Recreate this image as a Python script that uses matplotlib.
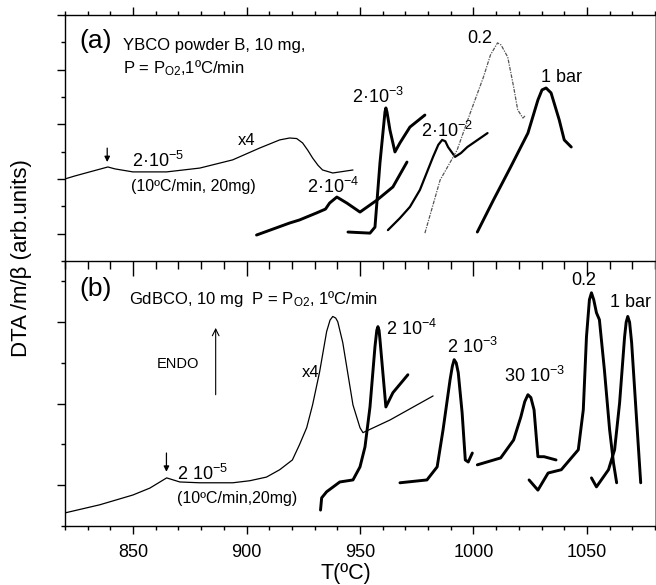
import matplotlib
matplotlib.use("Agg")
import matplotlib.pyplot as plt
from matplotlib.ticker import MultipleLocator

plt.rcParams['font.family'] = ['Liberation Sans', 'DejaVu Sans']
plt.rcParams['mathtext.default'] = 'regular'

# ---------------- (a) YBCO powder B ----------------
a_x4_T = [819.9, 824.3, 830.9, 838.9, 842.0, 849.9, 864.8, 879.4, 893.9, 905.7,
          914.6, 919.0, 922.1, 924.7, 927.0, 929.1, 931.5, 933.5, 938.0, 946.9]
a_x4_y = [3.00, 3.11, 3.26, 3.44, 3.37, 3.26, 3.26, 3.40, 3.70, 4.13,
          4.43, 4.50, 4.48, 4.32, 4.05, 3.77, 3.50, 3.33, 3.22, 3.33]

a_2e4_T = [904.4, 919.0, 923.3, 930.9, 934.8, 936.6, 939.8, 944.2, 950.0, 957.5, 964.5, 970.7]
a_2e4_y = [0.95, 1.39, 1.50, 1.76, 1.90, 2.12, 2.34, 2.12, 1.79, 2.23, 2.71, 3.62]

a_2e3_T = [944.7, 954.4, 956.6, 958.8, 961.0, 961.4, 961.9, 963.2, 965.4, 967.6, 972.0, 978.6]
a_2e3_y = [1.06, 1.02, 1.24, 3.59, 5.45, 5.60, 5.45, 4.79, 3.99, 4.32, 4.90, 5.34]

a_2e2_T = [962.3, 967.6, 972.0, 976.4, 982.2, 984.5, 986.2, 987.6, 988.8, 991.9, 994.5, 997.3, 1006.2]
a_2e2_y = [1.13, 1.57, 1.98, 2.60, 3.81, 4.25, 4.43, 4.38, 4.17, 3.81, 3.95, 4.17, 4.68]

a_02_T = [978.6, 985.3, 992.8, 998.6, 1004.4, 1007.5, 1010.6, 1012.2, 1015.1,
          1017.7, 1019.5, 1021.8, 1023.1]
a_02_y = [1.02, 2.96, 4.06, 5.42, 6.73, 7.54, 7.98, 7.90, 7.46,
          6.37, 5.53, 5.23, 5.34]

a_1bar_T = [1001.7, 1008.8, 1016.4, 1024.0, 1028.4, 1030.2, 1032.0, 1034.2, 1037.8, 1040.0, 1043.1]
a_1bar_y = [1.06, 2.23, 3.44, 4.68, 5.89, 6.26, 6.33, 6.15, 5.16, 4.43, 4.17]

# ---------------- (b) GdBCO ----------------
b_x4_T = [819.9, 835.3, 849.9, 857.4, 864.8, 870.6, 879.4, 893.9, 901.4, 908.8,
          914.6, 920.2, 923.3, 926.5, 929.1, 932.2, 935.3, 936.8, 938.0, 939.3, 940.2, 942.4,
          946.9, 950.0, 951.3, 963.2, 982.2]
b_x4_y = [0.32, 0.52, 0.76, 0.93, 1.18, 1.08, 1.06, 1.06, 1.11, 1.20,
          1.38, 1.62, 1.99, 2.41, 2.97, 3.78, 4.77, 5.05, 5.14, 5.10, 5.01, 4.50,
          2.97, 2.41, 2.29, 2.60, 3.19]

b_2e4_T = [932.6, 933.1, 935.3, 941.1, 946.9, 950.0, 952.2, 954.4, 956.6, 957.4, 957.9,
           958.4, 958.8, 959.7, 961.4, 964.5, 971.1]
b_2e4_y = [0.39, 0.69, 0.84, 1.08, 1.13, 1.45, 1.94, 2.92, 4.40, 4.80, 4.89,
           4.80, 4.57, 4.00, 2.92, 3.27, 3.71]

b_2e3_T = [967.6, 979.5, 984.0, 986.6, 989.7, 990.7, 991.5, 992.4, 993.3, 995.0, 996.4, 997.7, 999.5]
b_2e3_y = [1.06, 1.13, 1.45, 2.36, 3.59, 3.92, 4.08, 4.00, 3.76, 2.78, 1.62, 1.57, 1.79]

b_30e3_T = [1001.7, 1012.0, 1017.7, 1020.9, 1022.6, 1024.0, 1025.3, 1026.7, 1028.4, 1031.1, 1036.4]
b_30e3_y = [1.50, 1.67, 2.11, 2.68, 3.05, 3.22, 3.15, 2.85, 1.70, 1.70, 1.62]

b_02_T = [1024.5, 1028.4, 1032.9, 1038.7, 1046.2, 1048.4, 1049.8, 1051.1, 1052.0, 1053.0,
          1054.2, 1055.5, 1057.7, 1060.0, 1061.7, 1063.1]
b_02_y = [1.13, 0.88, 1.30, 1.38, 1.87, 2.85, 4.64, 5.55, 5.72, 5.55,
          5.23, 5.06, 3.83, 2.36, 1.55, 1.06]

b_1bar_T = [1052.0, 1054.2, 1059.5, 1062.2, 1064.4, 1066.6, 1067.3, 1068.0, 1068.8,
            1069.7, 1071.9, 1073.7]
b_1bar_y = [1.18, 0.96, 1.38, 1.87, 3.02, 4.64, 5.00, 5.14, 5.00,
            4.50, 2.60, 1.06]

x_ticks = [850, 900, 950, 1000, 1050]

THICK = 2.1
THIN = 0.9

fig = plt.figure(figsize=(6.56, 5.85), dpi=100)
ax_a = fig.add_axes([65/656, 1-261/585, 590/656, 246/585])
ax_b = fig.add_axes([65/656, 1-526/585, 590/656, 265/585])

for ax in (ax_a, ax_b):
    ax.set_xlim(820, 1080)
    ax.xaxis.set_major_locator(MultipleLocator(50))
    ax.xaxis.set_minor_locator(MultipleLocator(10))
    ax.yaxis.set_major_locator(MultipleLocator(2, offset=1))
    ax.yaxis.set_minor_locator(MultipleLocator(1))
    ax.set_yticklabels([])
    for s in ('left', 'top', 'bottom'):
        ax.spines[s].set_linewidth(1.0)
    ax.spines['right'].set_linewidth(0.6)
    ax.spines['right'].set_color('#777777')
    ax.tick_params(axis='y', which='major', direction='out', length=6, width=1.0,
                   left=True, right=False)
    ax.tick_params(axis='y', which='minor', direction='out', length=3, width=1.0,
                   left=True, right=False)

ax_a.set_ylim(0, 9)
ax_b.set_ylim(0, 6.5)

# panel (a): ticks on the top edge only
ax_a.tick_params(axis='x', which='both', top=True, bottom=False,
                 labeltop=False, labelbottom=False, direction='out', width=1.0)
ax_a.tick_params(axis='x', which='major', length=6)
ax_a.tick_params(axis='x', which='minor', length=3)
ax_a.spines['bottom'].set_visible(False)

# panel (b): ticks crossing the shared edge and below the bottom edge
ax_b.tick_params(axis='x', which='both', top=True, bottom=True, width=1.0)
ax_b.tick_params(axis='x', which='major', length=6, direction='out', pad=7,
                 labelsize=13)
ax_b.tick_params(axis='x', which='minor', length=3, direction='out')
ax_b.set_xticks(x_ticks)
ax_b.set_xticklabels([str(t) for t in x_ticks])
for t in ax_b.xaxis.get_major_ticks():
    t.tick2line.set_marker(3)
    t.tick2line.set_markersize(11)
for t in ax_b.xaxis.get_minor_ticks():
    t.tick2line.set_marker(3)
    t.tick2line.set_markersize(6)

line_kw = dict(color='black', solid_joinstyle='round', solid_capstyle='round')

# ---- curves, panel (a)
ax_a.plot(a_x4_T, a_x4_y, lw=THIN, **line_kw)
ax_a.plot(a_2e4_T, a_2e4_y, lw=THICK, **line_kw)
ax_a.plot(a_2e3_T, a_2e3_y, lw=THICK, **line_kw)
ax_a.plot(a_2e2_T, a_2e2_y, lw=1.6, **line_kw)
ax_a.plot(a_02_T, a_02_y, color='#555555', lw=0.9, linestyle=(0, (3, 1, 1, 1)))
ax_a.plot(a_1bar_T, a_1bar_y, lw=THICK, **line_kw)

# ---- curves, panel (b)
ax_b.plot(b_x4_T, b_x4_y, lw=THIN, **line_kw)
ax_b.plot(b_2e4_T, b_2e4_y, lw=THICK, **line_kw)
ax_b.plot(b_2e3_T, b_2e3_y, lw=THICK, **line_kw)
ax_b.plot(b_30e3_T, b_30e3_y, lw=THICK, **line_kw)
ax_b.plot(b_02_T, b_02_y, lw=THICK, **line_kw)
ax_b.plot(b_1bar_T, b_1bar_y, lw=THICK, **line_kw)

# ---- labels, panel (a)
ax_a.text(826.5, 7.79, '(a)', fontsize=19, va='baseline')
ax_a.text(845.5, 7.72, 'YBCO powder B, 10 mg,', fontsize=12, va='baseline')
ax_a.text(845.5, 6.88, 'P = P$_{O2}$,1ºC/min', fontsize=12, va='baseline')
ax_a.text(896.1, 4.24, 'x4', fontsize=12, va='baseline')
ax_a.text(849.4, 3.44, '2·10$^{-5}$', fontsize=13, va='baseline')
ax_a.text(849.3, 2.56, '(10ºC/min, 20mg)', fontsize=11.5, va='baseline')
ax_a.text(926.8, 2.49, '2·10$^{-4}$', fontsize=13, va='baseline')
ax_a.text(946.6, 5.78, '2·10$^{-3}$', fontsize=13, va='baseline')
ax_a.text(977.0, 4.54, '2·10$^{-2}$', fontsize=13, va='baseline')
ax_a.text(997.3, 7.98, '0.2', fontsize=13, va='baseline')
ax_a.text(1029.9, 6.55, '1 bar', fontsize=13, va='baseline')
ax_a.annotate('', xy=(838.6, 3.62), xytext=(838.6, 4.13),
              arrowprops=dict(arrowstyle='-|>', color='black', lw=0.9,
                              mutation_scale=8, shrinkA=0, shrinkB=0))

# ---- labels, panel (b)
ax_b.text(826.5, 5.63, '(b)', fontsize=19, va='baseline')
ax_b.text(848.1, 5.45, 'GdBCO, 10 mg  P = P$_{O2}$, 1ºC/min', fontsize=12, va='baseline')
ax_b.text(924.2, 3.66, 'x4', fontsize=12, va='baseline')
ax_b.text(869.3, 1.13, '2 10$^{-5}$', fontsize=13, va='baseline')
ax_b.text(869.3, 0.57, '(10ºC/min,20mg)', fontsize=11.5, va='baseline')
ax_b.text(860.4, 3.88, 'ENDO', fontsize=10.5, va='baseline')
ax_b.text(961.6, 4.69, '2 10$^{-4}$', fontsize=13, va='baseline')
ax_b.text(988.5, 4.25, '2 10$^{-3}$', fontsize=13, va='baseline')
ax_b.text(1013.6, 3.54, '30 10$^{-3}$', fontsize=13, va='baseline')
ax_b.text(1043.1, 5.92, '0.2', fontsize=13, va='baseline')
ax_b.text(1060.3, 5.36, '1 bar', fontsize=13, va='baseline')
ax_b.annotate('', xy=(864.7, 1.33), xytext=(864.7, 1.79),
              arrowprops=dict(arrowstyle='-|>', color='black', lw=0.9,
                              mutation_scale=8, shrinkA=0, shrinkB=0))
ax_b.annotate('', xy=(886.4, 4.86), xytext=(886.4, 3.22),
              arrowprops=dict(arrowstyle='->', color='black', lw=0.8,
                              mutation_scale=12, shrinkA=0, shrinkB=0))

fig.text(22/656, 1-258/585, 'DTA /m/β (arb.units)', rotation=90,
         ha='center', va='center', fontsize=16)
fig.text(346/656, 1-573/585, 'T(ºC)', ha='center', va='center', fontsize=15.5)

fig.savefig('out.png', dpi=100)
